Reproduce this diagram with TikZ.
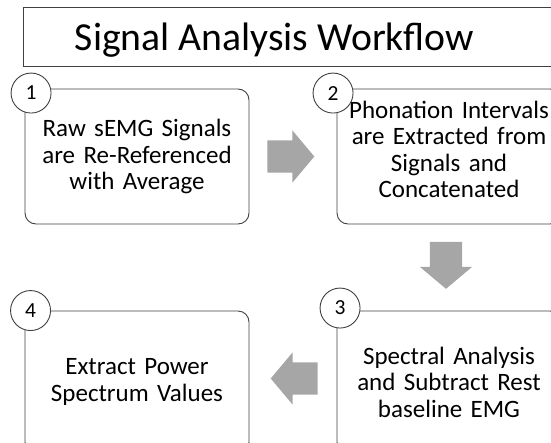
\documentclass[tikz,border=0pt]{standalone}
\usepackage{fontspec}
\setmainfont{Carlito}
\usetikzlibrary{shapes.arrows,calc}

\begin{document}
\begin{tikzpicture}[x=1pt,y=-1pt,
    stagebox/.style={draw=black!75,line width=0.9pt,rounded corners=11pt,minimum width=224pt,minimum height=135pt,text width=214pt,align=center,inner sep=0pt,font=\fontsize{25}{26.5}\selectfont},
    stepnum/.style={circle,draw=black!75,line width=0.9pt,fill=white,minimum size=40pt,inner sep=0pt,font=\fontsize{21.5}{24}\selectfont},
    flow/.style={single arrow,fill=black!35,draw=none,inner xsep=0pt,inner ysep=16pt,minimum height=47pt,single arrow head extend=10pt,single arrow tip angle=100,single arrow head indent=0pt}]
    \useasboundingbox (0,0) rectangle (551,442);
    \clip (0,0) rectangle (551,442);
    % heading
    \draw[draw=black!75,line width=0.9pt] (23,7) rectangle (580,66);
    \node[font=\fontsize{39.7}{47}\selectfont] (title) at (274.5,40.5) {Signal Analysis Workflow};
    % the four stages
    \node[stagebox] (raw) at (137,156.5) {Raw sEMG Signals\\are Re-Referenced\\with Average};
    \node[stagebox] (phon) at (449,156.5) {Phonation Intervals\\are Extracted from\\Signals and\\Concatenated\\[-12pt]\mbox{}};
    \node[stagebox,minimum height=142pt] (spec) at (449,382) {Spectral Analysis\\and Subtract Rest\\baseline EMG};
    \node[stagebox,minimum height=142pt] (power) at (137,382) {Extract Power\\Spectrum Values};
    % numbers on the corners
    \node[stepnum] (n1) at ($(raw.north west)+(6.5,4.5)$) {1};
    \node[stepnum] (n2) at ($(phon.north west)+(-3.5,4.5)$) {2};
    \node[stepnum] (n3) at ($(spec.north west)+(3.5,-2.5)$) {3};
    \node[stepnum] (n4) at ($(power.north west)+(6,0)$) {4};
    % arrows between stages
    \node[flow] (a12) at ($(raw.east)!0.5!(phon.west)+(-9,0)$) {};
    \node[flow,rotate=-90] (a23) at ($(phon.south)!0.5!(spec.north)+(-3,-9)$) {};
    \node[flow,rotate=180] (a34) at ($(spec.west)!0.5!(power.east)+(8,-3.5)$) {};
\end{tikzpicture}
\end{document}
